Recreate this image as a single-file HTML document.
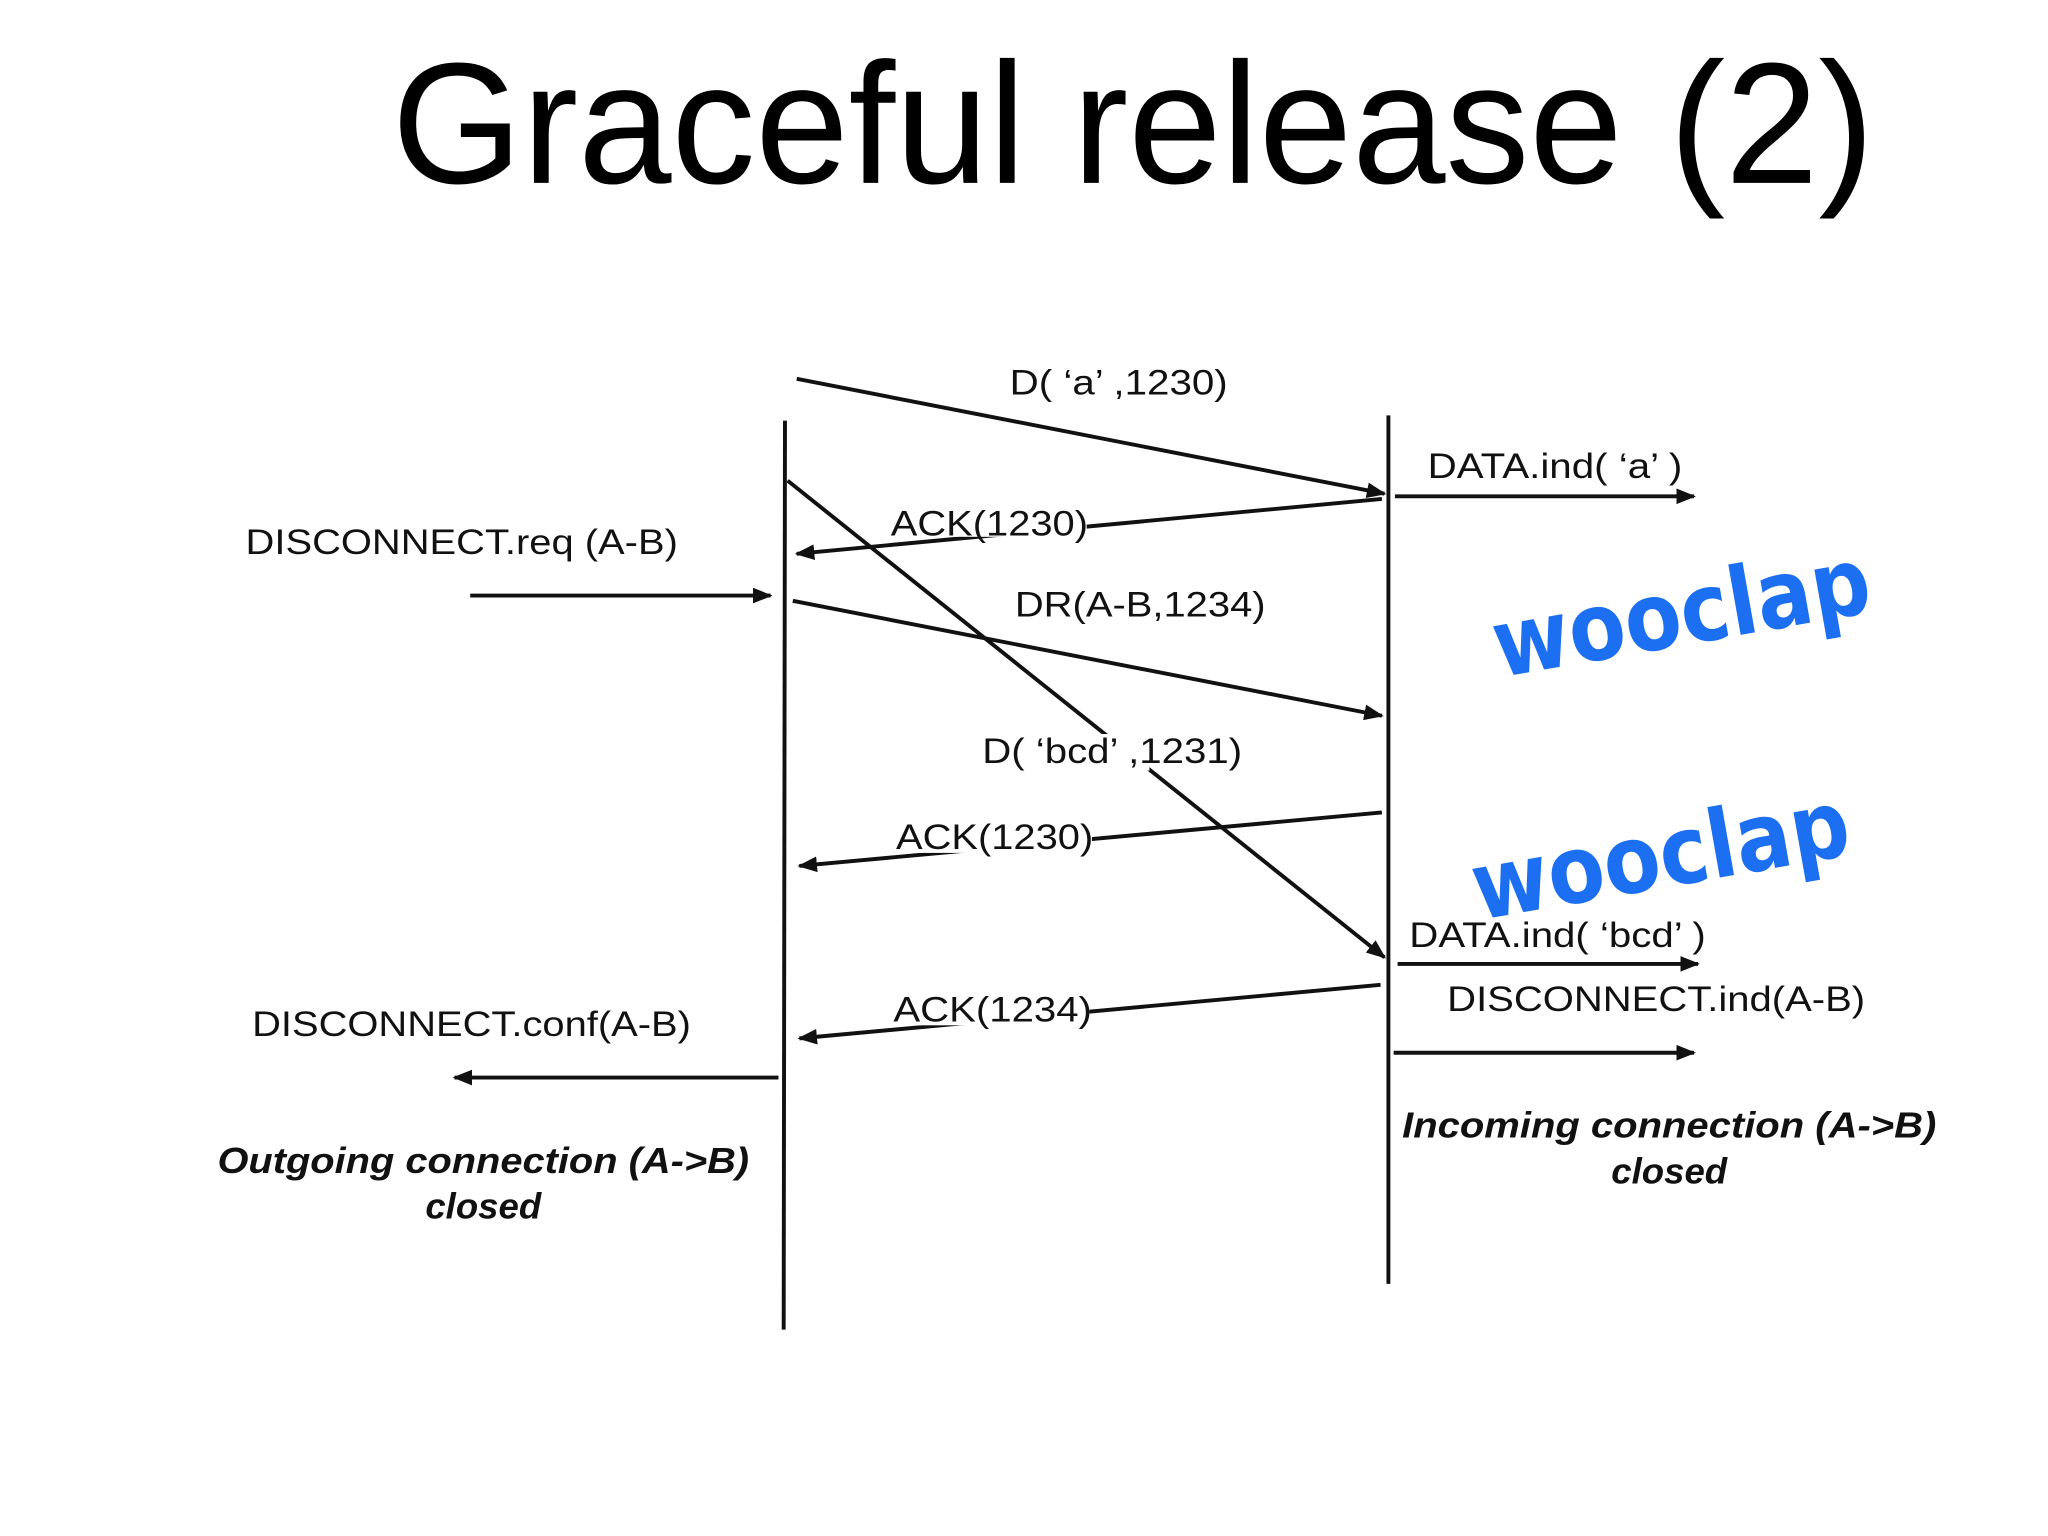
<!DOCTYPE html>
<html><head><meta charset="utf-8"><style>
html,body{margin:0;padding:0;background:#fff;width:2048px;height:1536px;overflow:hidden}
svg{display:block}
text{font-family:"Liberation Sans",sans-serif;fill:#111}
.l{font-size:27px}
.b{font-size:28px;font-weight:bold;font-style:italic;text-anchor:middle}
.w{font-size:72px;font-weight:bold;fill:#1b6ff0;font-family:"DejaVu Sans","Liberation Sans",sans-serif}
</style></head><body>
<svg width="2048" height="1536" viewBox="0 0 1568 1176" xmlns="http://www.w3.org/2000/svg">
<defs><marker id="a" viewBox="0 0 10 10" refX="9" refY="5" markerWidth="5" markerHeight="5" orient="auto"><path d="M0,1 L10,5 L0,9 z" fill="#111"/></marker></defs>
<text x="300" y="140" font-size="132" textLength="1135" lengthAdjust="spacingAndGlyphs" style="fill:#000">Graceful release (2)</text>
<g stroke="#111" stroke-width="3" fill="none">
<line x1="601" y1="322" x2="600" y2="1018"/>
<line x1="1063" y1="318" x2="1063" y2="983"/>
<line x1="610" y1="290" x2="1060" y2="378" marker-end="url(#a)"/>
<line x1="1068" y1="380" x2="1297" y2="380" marker-end="url(#a)"/>
<line x1="603" y1="368" x2="1060" y2="733" marker-end="url(#a)"/>
<line x1="1058" y1="382" x2="610" y2="424" marker-end="url(#a)"/>
<line x1="360" y1="456" x2="590" y2="456" marker-end="url(#a)"/>
<line x1="607" y1="460" x2="1058" y2="548" marker-end="url(#a)"/>
<line x1="1058" y1="622" x2="612" y2="663" marker-end="url(#a)"/>
<line x1="1070" y1="738" x2="1300" y2="738" marker-end="url(#a)"/>
<line x1="1067" y1="806" x2="1297" y2="806" marker-end="url(#a)"/>
<line x1="1057" y1="754" x2="612" y2="795" marker-end="url(#a)"/>
<line x1="596" y1="825" x2="348" y2="825" marker-end="url(#a)"/>
</g>
<g fill="#fff">
<rect x="692" y="385" width="140" height="26"/>
<rect x="800" y="562" width="80" height="28"/>
<rect x="696" y="627" width="140" height="26"/>
<rect x="694" y="759" width="140" height="26"/>
</g>
<text class="l" x="773" y="302" textLength="167" lengthAdjust="spacingAndGlyphs">D( ‘a’ ,1230)</text>
<text class="l" x="1093" y="366" textLength="195" lengthAdjust="spacingAndGlyphs">DATA.ind( ‘a’ )</text>
<text class="l" x="682" y="410" textLength="151" lengthAdjust="spacingAndGlyphs">ACK(1230)</text>
<text class="l" x="188" y="424" textLength="331" lengthAdjust="spacingAndGlyphs">DISCONNECT.req (A-B)</text>
<text class="l" x="777" y="472" textLength="192" lengthAdjust="spacingAndGlyphs">DR(A-B,1234)</text>
<text class="l" x="752" y="584" textLength="199" lengthAdjust="spacingAndGlyphs">D( ‘bcd’ ,1231)</text>
<text class="l" x="686" y="650" textLength="151" lengthAdjust="spacingAndGlyphs">ACK(1230)</text>
<text class="l" x="1079" y="725" textLength="227" lengthAdjust="spacingAndGlyphs">DATA.ind( ‘bcd’ )</text>
<text class="l" x="1108" y="774" textLength="320" lengthAdjust="spacingAndGlyphs">DISCONNECT.ind(A-B)</text>
<text class="l" x="684" y="782" textLength="152" lengthAdjust="spacingAndGlyphs">ACK(1234)</text>
<text class="l" x="193" y="793" textLength="336" lengthAdjust="spacingAndGlyphs">DISCONNECT.conf(A-B)</text>
<text class="b" x="370" y="898" textLength="407" lengthAdjust="spacingAndGlyphs">Outgoing connection (A-&gt;B)</text>
<text class="b" x="370" y="933">closed</text>
<text class="b" x="1278" y="871" textLength="409" lengthAdjust="spacingAndGlyphs">Incoming connection (A-&gt;B)</text>
<text class="b" x="1278" y="906">closed</text>
<text class="w" x="1140" y="494" transform="rotate(-10 1285 462)" textLength="292" lengthAdjust="spacingAndGlyphs">wooclap</text>
<text class="w" x="1124" y="680" transform="rotate(-10 1268 648)" textLength="292" lengthAdjust="spacingAndGlyphs">wooclap</text>
</svg>
</body></html>
